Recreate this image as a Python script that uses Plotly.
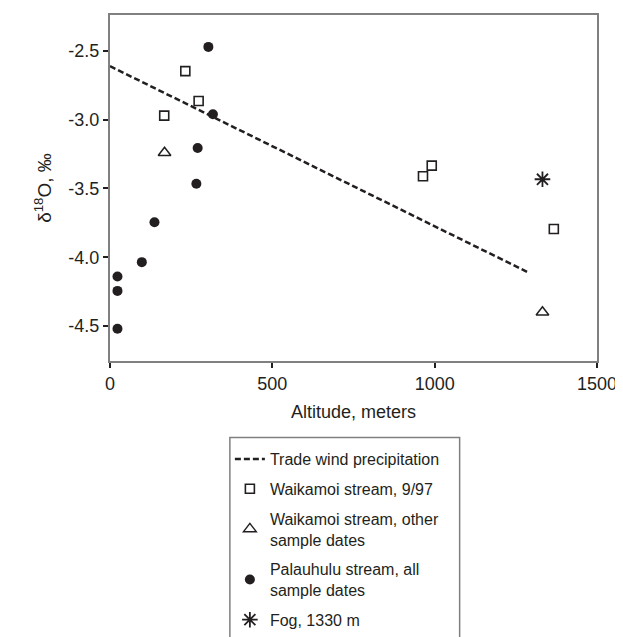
import plotly.graph_objects as go

# Trade wind precipitation line (endpoints)
trade_alt = [0, 1292]
trade_d18o = [-2.61, -4.115]

# Waikamoi stream, 9/97
wk997_alt = [167, 232, 273, 964, 991, 1367]
wk997_d18o = [-2.97, -2.646, -2.864, -3.411, -3.334, -3.795]

# Waikamoi stream, other sample dates
wkoth_alt = [168, 1332]
wkoth_d18o = [-3.24, -4.40]

# Palauhulu stream, all sample dates
pal_alt = [303, 317, 270, 266, 137, 98, 23, 23, 23]
pal_d18o = [-2.47, -2.96, -3.205, -3.465, -3.746, -4.036, -4.14, -4.245, -4.52]

# Fog, 1330 m
fog_alt = [1332]
fog_d18o = [-3.433]

x_tick_vals = [0, 500, 1000, 1500]
x_tick_text = ["0", "500", "1000", "1500"]
y_tick_vals = [-2.5, -3.0, -3.5, -4.0, -4.5]
y_tick_text = ["-2.5", "-3.0", "-3.5", "-4.0", "-4.5"]

INK = "#231f20"
GRAY = "#808080"
FONT = "Liberation Sans, Arial, sans-serif"

fig = go.Figure()
fig.add_trace(go.Scatter(
    x=trade_alt, y=trade_d18o, mode="lines", name="Trade wind precipitation",
    legendgroup="g1",
    line=dict(color=INK, width=2.5, dash="6px,3px"),
))
fig.add_trace(go.Scatter(
    x=wk997_alt, y=wk997_d18o, mode="markers", name="Waikamoi stream, 9/97",
    legendgroup="g2",
    marker=dict(symbol="square-open", size=9, color=INK, line=dict(width=1.6, color=INK)),
))
fig.add_trace(go.Scatter(
    x=wkoth_alt, y=wkoth_d18o, mode="markers", name="Waikamoi stream, other<br>sample dates",
    legendgroup="g3",
    marker=dict(symbol="triangle-up-open", size=11, color=INK, line=dict(width=1.5, color=INK)),
))
fig.add_trace(go.Scatter(
    x=pal_alt, y=pal_d18o, mode="markers", name="Palauhulu stream, all<br>sample dates",
    legendgroup="g4",
    marker=dict(symbol="circle", size=10, color=INK),
))
fig.add_trace(go.Scatter(
    x=fog_alt, y=fog_d18o, mode="markers", name="Fog, 1330 m",
    legendgroup="g5",
    marker=dict(symbol="asterisk-open", size=13, color=INK, line=dict(width=1.8, color=INK)),
))

L, R, T, B = 102, 33.5, 7, 284
W, H = 623, 637
ph = H - T - B
pw = W - L - R


def px_x(p):
    return (p - L) / pw


def px_y(p):
    return (H - B - p) / ph


fig.update_layout(
    width=W, height=H,
    margin=dict(l=L, r=R, t=T, b=B, pad=0, autoexpand=False),
    paper_bgcolor="white", plot_bgcolor="white",
    font=dict(family=FONT, size=18, color=INK),
    showlegend=True,
    legend=dict(
        x=px_x(222), y=px_y(434), xanchor="left", yanchor="top",
        borderwidth=0, bgcolor="rgba(0,0,0,0)",
        font=dict(family=FONT, size=16, color=INK),
        itemwidth=30, tracegroupgap=6, traceorder="grouped",
    ),
    shapes=[dict(
        type="rect", xref="paper", yref="paper",
        x0=px_x(222), x1=px_x(452), y0=px_y(429.5), y1=px_y(650),
        line=dict(color=GRAY, width=1.5), fillcolor="rgba(0,0,0,0)", layer="below",
    )],
)
fig.update_xaxes(
    range=[0, 1500], tickvals=x_tick_vals, ticktext=x_tick_text,
    showline=True, linecolor=GRAY, linewidth=2, mirror=True,
    ticks="outside", ticklen=5, tickwidth=2, tickcolor=INK,
    showgrid=False, zeroline=False,
    title=dict(text="Altitude, meters", font=dict(size=18), standoff=13),
)
fig.update_yaxes(
    range=[-4.755, -2.238], tickvals=y_tick_vals, ticktext=y_tick_text,
    showline=True, linecolor=GRAY, linewidth=2, mirror=True,
    ticks="outside", ticklen=5, tickwidth=2, tickcolor=INK,
    showgrid=False, zeroline=False,
    title=dict(text="δ<sup>18</sup>O, ‰", font=dict(size=19), standoff=12),
)

fig.write_html("out.html")
